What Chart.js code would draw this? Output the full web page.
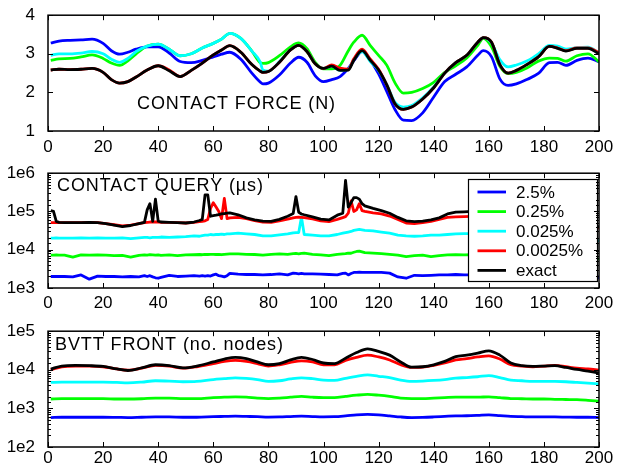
<!DOCTYPE html>
<html><head><meta charset="utf-8">
<script src="https://cdn.jsdelivr.net/npm/chart.js@4/dist/chart.umd.min.js"></script>
<style>
html,body{margin:0;padding:0;background:#fff;}
#wrap{position:relative;width:628px;height:470px;overflow:hidden;}
canvas{position:absolute;left:0;}
</style></head>
<body><div id="wrap">
<canvas id="c1" width="628" height="158" style="top:0px"></canvas>
<canvas id="c2" width="628" height="158" style="top:158px"></canvas>
<canvas id="c3" width="628" height="154" style="top:316px"></canvas>
</div>
<script>
// ---------- DATA ----------
const seriesLabels = ['2.5%', '0.25%', '0.025%', '0.0025%', 'exact'];
const panelTitles = ['CONTACT FORCE (N)', 'CONTACT QUERY (µs)', 'BVTT FRONT (no. nodes)'];

// Panel 1: contact force (N)
const x1 = [1,4,8,12,16,20,23,26,29,32,36,40,44,48,52,56,60,63,66,70,74,77,78,80,84,88,91,94,97,100,103,106,109,111,114,117,120,123,126,129,132,136,140,144,148,152,156,158,161,164,167,170,174,178,182,185,188,192,196,200];
const force_25 = [3.28,3.33,3.35,3.36,3.38,3.27,3.08,2.99,3.04,3.12,3.18,3.18,3.02,2.80,2.77,2.83,2.92,2.99,3.04,2.86,2.50,2.27,2.22,2.24,2.45,2.76,2.91,2.78,2.43,2.28,2.33,2.41,2.62,2.82,3.06,2.83,2.48,2.02,1.55,1.28,1.27,1.47,1.88,2.28,2.47,2.66,2.96,3.08,2.92,2.35,2.18,2.22,2.34,2.49,2.77,2.78,2.70,2.83,2.89,2.79];
const force_025 = [2.83,2.87,2.88,2.92,2.97,2.88,2.76,2.70,2.82,3.00,3.20,3.25,3.12,2.95,3.00,3.15,3.27,3.38,3.53,3.40,3.07,2.77,2.75,2.77,2.95,3.18,3.28,3.13,2.78,2.61,2.61,2.70,3.08,3.30,3.48,3.21,2.96,2.70,2.24,1.98,2.00,2.10,2.26,2.52,2.69,2.89,3.22,3.40,3.18,2.68,2.49,2.52,2.64,2.81,2.89,2.88,2.81,2.95,3.00,2.79];
const force_0025 = [2.96,3.00,3.00,3.02,3.06,3.00,2.86,2.78,2.88,3.06,3.20,3.25,3.12,2.95,3.00,3.15,3.27,3.38,3.53,3.40,3.07,2.79,2.58,2.55,2.80,3.10,3.22,3.06,2.74,2.62,2.68,2.57,2.60,2.85,3.06,2.80,2.57,2.20,1.74,1.62,1.66,1.86,2.14,2.50,2.77,2.96,3.30,3.42,3.28,2.85,2.66,2.71,2.82,3.00,3.22,3.20,3.12,3.16,3.17,3.02];
const force_00025 = [2.58,2.60,2.59,2.60,2.62,2.52,2.33,2.24,2.28,2.40,2.58,2.69,2.58,2.41,2.57,2.76,2.97,3.10,3.21,3.04,2.72,2.55,2.52,2.54,2.78,3.10,3.22,3.06,2.74,2.62,2.71,2.63,2.60,2.87,3.12,2.86,2.60,2.19,1.70,1.56,1.62,1.83,2.12,2.50,2.77,2.96,3.30,3.42,3.30,2.72,2.50,2.57,2.73,2.92,3.19,3.15,3.08,3.15,3.15,3.03];
const force_exact = [2.58,2.60,2.59,2.60,2.62,2.52,2.33,2.24,2.28,2.40,2.58,2.69,2.56,2.41,2.57,2.76,2.97,3.10,3.21,3.04,2.72,2.55,2.52,2.54,2.78,3.10,3.22,3.06,2.74,2.62,2.68,2.57,2.58,2.83,3.08,2.83,2.58,2.19,1.70,1.56,1.62,1.83,2.12,2.50,2.77,2.96,3.30,3.42,3.30,2.72,2.50,2.57,2.73,2.92,3.19,3.14,3.07,3.14,3.14,3.00];

// Panel 2: contact query time (µs)
const x2 = [1,2,3,4,6,9,12,15,18,21,24,27,30,33,35,36,37,38,39,40,41,44,47,50,53,55,56,57,58,59,60,61,62,63,64,65,66,69,72,75,78,81,84,87,89,90,91,92,93,96,99,102,105,107,108,109,110,111,112,113,114,115,118,121,124,127,130,133,136,139,142,145,148,151,154,160,170,180,190,197,199,200];
const query_25 = [2.0e3,2.0e3,2.0e3,2.0e3,2.0e3,1.95e3,2.2e3,1.7e3,2.05e3,2.0e3,2.0e3,1.95e3,2.0e3,1.95e3,2.1e3,2.0e3,2.1e3,1.95e3,1.85e3,1.8e3,1.9e3,2.15e3,2.0e3,2.05e3,2.1e3,2.05e3,2.1e3,2.05e3,2.1e3,2.05e3,2.2e3,2.3e3,2.1e3,2.05e3,1.95e3,2.1e3,2.4e3,2.3e3,2.25e3,2.25e3,2.2e3,2.25e3,2.35e3,2.2e3,2.45e3,2.4e3,2.35e3,2.4e3,2.35e3,2.35e3,2.3e3,2.25e3,2.2e3,2.4e3,2.45e3,2.2e3,2.4e3,2.55e3,2.55e3,2.6e3,2.55e3,2.55e3,2.55e3,2.55e3,2.45e3,1.95e3,1.8e3,2.15e3,2.1e3,2.15e3,2.2e3,2.2e3,2.25e3,2.2e3,2.2e3,2.25e3,2.2e3,2.15e3,2.1e3,1.7e3,1.65e3,2.1e3];
const query_025 = [7.2e3,7.2e3,7.3e3,7.2e3,7.2e3,6.4e3,7.3e3,7.2e3,7.3e3,7.2e3,7.0e3,7.1e3,6.4e3,7.1e3,7.3e3,7.2e3,7.4e3,7.3e3,7.2e3,7.3e3,7.1e3,7.3e3,7.0e3,7.3e3,7.4e3,7.5e3,7.4e3,7.6e3,7.5e3,7.6e3,7.6e3,7.5e3,7.6e3,7.4e3,7.6e3,7.7e3,7.8e3,7.8e3,7.6e3,7.5e3,7.2e3,7.6e3,7.8e3,7.6e3,7.9e3,8.0e3,7.8e3,8.0e3,8.1e3,7.6e3,7.3e3,7.0e3,7.6e3,7.8e3,7.9e3,8.2e3,8.1e3,8.6e3,9.0e3,9.2e3,8.8e3,8.4e3,8.2e3,7.9e3,7.6e3,7.2e3,6.6e3,7.0e3,7.2e3,6.6e3,7.0e3,7.3e3,7.4e3,7.3e3,7.4e3,7.3e3,7.0e3,6.8e3,6.5e3,6.2e3,5.8e3,5.8e3];
const query_0025 = [2.0e4,2.0e4,2.05e4,2.0e4,2.0e4,2.0e4,2.05e4,2.0e4,2.05e4,2.0e4,2.0e4,2.05e4,1.95e4,2.05e4,2.1e4,2.1e4,2.05e4,2.1e4,2.1e4,2.1e4,2.15e4,2.1e4,2.15e4,2.2e4,2.3e4,2.25e4,2.35e4,2.4e4,2.4e4,2.5e4,2.45e4,2.5e4,2.5e4,2.55e4,2.5e4,2.6e4,2.6e4,2.7e4,2.6e4,2.5e4,2.3e4,2.3e4,2.45e4,2.6e4,2.75e4,2.8e4,2.8e4,7.2e4,2.5e4,2.4e4,2.3e4,2.3e4,2.5e4,2.7e4,2.8e4,2.9e4,3.0e4,3.2e4,3.3e4,3.4e4,3.3e4,3.2e4,3.1e4,2.9e4,2.7e4,2.4e4,2.3e4,2.25e4,2.3e4,2.4e4,2.4e4,2.5e4,2.6e4,2.65e4,2.65e4,2.6e4,2.4e4,2.2e4,2.0e4,1.8e4,1.75e4,1.7e4];
const query_00025 = [5.1e4,5.1e4,5.1e4,5.1e4,5.1e4,5.1e4,5.1e4,5.2e4,5.1e4,4.8e4,4.5e4,4.2e4,4.4e4,4.8e4,5.1e4,5.2e4,5.3e4,5.3e4,5.3e4,5.3e4,5.2e4,5.2e4,5.1e4,5.0e4,5.2e4,5.4e4,5.5e4,5.7e4,6.2e4,1.2e5,1.7e5,1.3e5,1.0e5,6.5e4,2.2e5,6.5e4,6.8e4,7.0e4,6.5e4,5.8e4,5.3e4,5.2e4,5.7e4,6.3e4,6.8e4,7.0e4,7.1e4,7.0e4,6.9e4,6.4e4,5.7e4,5.4e4,6.2e4,6.9e4,7.3e4,9.0e4,1.9e5,1.0e5,1.1e5,1.6e5,1.05e5,1.0e5,9.2e4,8.6e4,7.6e4,6.2e4,5.0e4,4.8e4,5.1e4,5.5e4,6.2e4,7.0e4,7.2e4,7.3e4,7.4e4,7.5e4,7.0e4,6.5e4,5.5e4,4.2e4,3.8e4,3.7e4];
const query_exact = [1.05e5,1.0e5,5.5e4,5.2e4,5.1e4,5.1e4,5.1e4,5.2e4,5.1e4,4.8e4,4.4e4,4.0e4,4.3e4,4.8e4,5.2e4,1.1e5,1.6e5,5.5e4,2.1e5,5.6e4,5.3e4,5.2e4,5.1e4,5.0e4,5.3e4,5.8e4,6.2e4,2.7e5,2.7e5,7.5e4,7.8e4,8.0e4,8.3e4,8.6e4,8.8e4,9.0e4,9.2e4,8.2e4,6.8e4,6.0e4,5.6e4,5.5e4,6.2e4,7.5e4,8.8e4,2.45e5,9.5e4,8.6e4,8.2e4,7.2e4,6.3e4,6.0e4,8.0e4,9.0e4,6.5e5,1.3e5,1.7e5,2.3e5,2.3e5,2.1e5,1.6e5,1.4e5,1.2e5,1.05e5,9.0e4,7.0e4,5.7e4,5.4e4,5.6e4,6.0e4,6.8e4,8.6e4,9.6e4,9.8e4,1.0e5,1.0e5,9.0e4,8.0e4,6.0e4,4.5e4,4.1e4,4.0e4];

// Panel 3: BVTT front size (no. nodes)
const x3 = [1,5,10,15,20,25,29,34,39,44,49,54,60,64,68,72,76,80,84,88,92,96,100,104,108,112,116,120,124,128,132,136,140,144,148,152,156,160,164,168,172,176,180,184,188,192,196,200];
const front_25 = [580,590,590,590,590,585,580,590,600,600,590,590,610,620,630,620,610,595,600,615,630,615,605,610,640,680,700,680,640,600,580,585,600,620,640,645,660,680,650,620,610,600,600,600,595,590,590,580];
const front_025 = [1.75e3,1.8e3,1.8e3,1.8e3,1.8e3,1.75e3,1.75e3,1.78e3,1.85e3,1.85e3,1.8e3,1.8e3,1.9e3,1.95e3,2.0e3,1.95e3,1.85e3,1.8e3,1.85e3,1.95e3,2.05e3,1.95e3,1.9e3,1.9e3,2.05e3,2.2e3,2.3e3,2.2e3,2.05e3,1.85e3,1.8e3,1.8e3,1.85e3,1.9e3,1.95e3,1.95e3,1.95e3,2.0e3,1.9e3,1.8e3,1.78e3,1.75e3,1.75e3,1.72e3,1.7e3,1.68e3,1.62e3,1.55e3];
const front_0025 = [4.7e3,4.8e3,4.8e3,4.8e3,4.8e3,4.7e3,4.6e3,4.8e3,5.2e3,5.1e3,4.9e3,5.0e3,5.6e3,5.9e3,6.2e3,6.0e3,5.6e3,5.0e3,5.2e3,5.8e3,6.2e3,5.9e3,5.4e3,5.3e3,6.0e3,6.8e3,7.4e3,6.8e3,6.3e3,5.4e3,5.0e3,5.1e3,5.3e3,5.6e3,6.1e3,6.3e3,6.6e3,7.1e3,6.3e3,5.4e3,5.2e3,5.0e3,5.0e3,5.0e3,4.9e3,4.7e3,4.5e3,4.3e3];
const front_00025 = [1.0e4,1.2e4,1.25e4,1.25e4,1.2e4,1.05e4,9.8e3,1.1e4,1.3e4,1.25e4,1.1e4,1.2e4,1.45e4,1.65e4,1.75e4,1.65e4,1.45e4,1.25e4,1.35e4,1.55e4,1.7e4,1.6e4,1.35e4,1.35e4,1.75e4,2.1e4,2.4e4,2.15e4,1.8e4,1.35e4,1.15e4,1.17e4,1.3e4,1.5e4,1.8e4,1.95e4,2.15e4,2.3e4,1.9e4,1.35e4,1.25e4,1.2e4,1.25e4,1.3e4,1.2e4,1.1e4,1.05e4,9.8e3];
const front_exact = [1.05e4,1.25e4,1.3e4,1.28e4,1.22e4,1.05e4,9.6e3,1.12e4,1.35e4,1.28e4,1.12e4,1.25e4,1.6e4,1.9e4,2.1e4,1.95e4,1.6e4,1.35e4,1.45e4,1.8e4,2.1e4,1.85e4,1.5e4,1.45e4,2.0e4,2.8e4,3.5e4,3.0e4,2.4e4,1.6e4,1.17e4,1.2e4,1.35e4,1.65e4,2.2e4,2.4e4,2.7e4,3.1e4,2.4e4,1.5e4,1.28e4,1.22e4,1.25e4,1.28e4,1.15e4,1.02e4,9.3e3,8.3e3];

// ---------- STYLE ----------
const seriesColors = ['#0000ff', '#00ff00', '#00ffff', '#ff0000', '#000000'];
const FONT = '"Liberation Sans", Arial, Helvetica, sans-serif';
Chart.defaults.font.family = FONT;
Chart.defaults.font.size = 17;
Chart.defaults.color = '#000';

function isPow10(v) { const l = Math.log10(v); return Math.abs(l - Math.round(l)) < 1e-9; }
function logLabel(v) { return isPow10(v) ? '1e' + Math.round(Math.log10(v)) : ''; }

const panelText = {
  id: 'panelText',
  afterDatasetsDraw(chart, args, opts) {
    if (!opts.text) return;
    const a = chart.chartArea, ctx = chart.ctx;
    ctx.save();
    ctx.font = '18px ' + FONT;
    if ('letterSpacing' in ctx) ctx.letterSpacing = '0.9px';
    ctx.fillStyle = '#000';
    ctx.textAlign = 'left';
    ctx.textBaseline = 'alphabetic';
    ctx.fillText(opts.text, a.left + opts.dx, a.top + opts.dy);
    ctx.restore();
  }
};

const boxLegend = {
  id: 'boxLegend',
  afterDatasetsDraw(chart, args, opts) {
    if (!opts.show) return;
    const a = chart.chartArea, ctx = chart.ctx;
    const w = 129, h = 102;
    const L = Math.round(a.right - 2.5 - w), T = Math.round(a.top + 5.5);
    ctx.save();
    ctx.fillStyle = '#fff';
    ctx.fillRect(L, T, w, h);
    ctx.strokeStyle = '#000';
    ctx.lineWidth = 1.2;
    ctx.strokeRect(L + 0.5, T + 0.5, w, h);
    chart.data.datasets.forEach((ds, i) => {
      const y = T + 13 + i * 19.6;
      ctx.strokeStyle = ds.borderColor;
      ctx.lineWidth = 2.8;
      ctx.beginPath(); ctx.moveTo(L + 9.5, y); ctx.lineTo(L + 38, y); ctx.stroke();
      ctx.fillStyle = '#000';
      ctx.font = '17px ' + FONT;
      ctx.textAlign = 'left';
      ctx.textBaseline = 'middle';
      ctx.fillText(ds.label, L + 48, y + 1);
    });
    ctx.restore();
  }
};

const frame = {
  id: 'frame',
  afterDatasetsDraw(chart) {
    const a = chart.chartArea, ctx = chart.ctx, xs = chart.scales.x, ys = chart.scales.y;
    const logY = ys.type === 'logarithmic';
    ctx.save();
    ctx.strokeStyle = '#000';
    ctx.lineWidth = 1;
    ctx.beginPath();
    xs.ticks.forEach(t => {
      const p = Math.round(xs.getPixelForValue(t.value)) + 0.5;
      ctx.moveTo(p, a.bottom); ctx.lineTo(p, a.bottom - 5);
      ctx.moveTo(p, a.top); ctx.lineTo(p, a.top + 5);
    });
    ys.ticks.forEach(t => {
      const p = Math.round(ys.getPixelForValue(t.value)) + 0.5;
      const len = (!logY || isPow10(t.value)) ? 5 : 3;
      ctx.moveTo(a.left, p); ctx.lineTo(a.left + len, p);
      ctx.moveTo(a.right, p); ctx.lineTo(a.right - len, p);
    });
    ctx.stroke();
    ctx.lineWidth = 1.5;
    ctx.strokeRect(a.left, a.top, a.right - a.left, a.bottom - a.top);
    ctx.restore();
  }
};

function buildPanel(id, xs, seriesList, yScale, xAxisHeight, xPad, title, showLegend, smooth) {
  const datasets = seriesList.map((arr, i) => ({
    label: seriesLabels[i],
    data: arr.map((v, j) => ({ x: xs[j], y: v })),
    borderColor: seriesColors[i],
    backgroundColor: seriesColors[i],
    borderWidth: 2.8,
    pointRadius: 0,
    fill: false,
    order: seriesList.length - 1 - i,
    tension: 0,
    cubicInterpolationMode: smooth ? 'monotone' : 'default',
    borderJoinStyle: 'round'
  }));
  return new Chart(document.getElementById(id), {
    type: 'line',
    data: { datasets },
    options: {
      responsive: false,
      devicePixelRatio: 1,
      animation: false,
      events: [],
      layout: { padding: { top: 12, left: 0, right: 29, bottom: 0 } },
      scales: {
        x: {
          type: 'linear', min: 0, max: 200,
          grid: { display: false }, border: { display: false },
          ticks: { stepSize: 20, padding: xPad, maxRotation: 0, autoSkip: false, font: { size: 17 }, color: '#000' },
          afterFit(s) { s.height = xAxisHeight; }
        },
        y: Object.assign({
          position: 'left',
          grid: { display: false }, border: { display: false },
          afterFit(s) { s.width = 48; }
        }, yScale)
      },
      plugins: {
        legend: { display: false },
        tooltip: { enabled: false },
        panelText: title,
        boxLegend: { show: showLegend }
      }
    },
    plugins: [panelText, boxLegend, frame]
  });
}

const yForce = { type: 'linear', min: 1, max: 4, ticks: { stepSize: 1, padding: 5, font: { size: 17 }, color: '#000' } };
const yQuery = { type: 'logarithmic', min: 1e3, max: 1e6, ticks: { autoSkip: false, padding: 5, font: { size: 17 }, color: '#000', callback: logLabel } };
const yFront = { type: 'logarithmic', min: 1e2, max: 1e5, ticks: { autoSkip: false, padding: 5, font: { size: 17 }, color: '#000', callback: logLabel } };

buildPanel('c1', x1, [force_25, force_025, force_0025, force_00025, force_exact], yForce, 27, -2,
  { text: panelTitles[0], dx: 89, dy: 94 }, false, true);
buildPanel('c2', x2, [query_25, query_025, query_0025, query_00025, query_exact], yQuery, 28, -3,
  { text: panelTitles[1], dx: 9, dy: 17.5 }, true, false);
buildPanel('c3', x3, [front_25, front_025, front_0025, front_00025, front_exact], yFront, 23, -7,
  { text: panelTitles[2], dx: 7, dy: 18.7 }, false, true);
</script>
</body></html>
